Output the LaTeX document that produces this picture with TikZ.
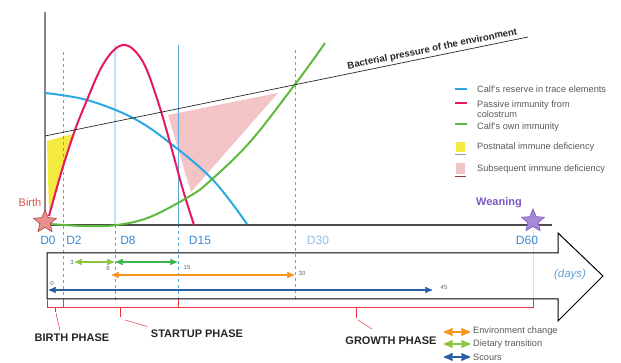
\documentclass[tikz,border=0pt]{standalone}
\usepackage{fontspec}
\setmainfont{Liberation Sans}
\usepackage{tikz}
\usetikzlibrary{positioning,calc,arrows,shapes.geometric}
\definecolor{axisgray}{HTML}{8C8282}
\definecolor{reserveblue}{HTML}{2AAAE2}
\definecolor{passivered}{HTML}{E6195E}
\definecolor{owngreen}{HTML}{5DBA3B}
\definecolor{postyellow}{HTML}{F4EA3F}
\definecolor{subpink}{HTML}{F2C4C6}
\definecolor{guideblue}{HTML}{5AA7DC}
\definecolor{dayblue}{HTML}{3A8AD0}
\definecolor{dietgreen}{HTML}{8CC63F}
\definecolor{darkgreen}{HTML}{3CB54A}
\definecolor{envorange}{HTML}{F7941D}
\definecolor{scourblue}{HTML}{2B5FA5}
\definecolor{bracered}{HTML}{E8333C}
\definecolor{birthred}{HTML}{D9534F}
\definecolor{weanpurple}{HTML}{7E57C2}
\tikzstyle{guide} = [draw=guideblue, line width=0.5pt]
\tikzstyle{guidedash} = [guide, dashed]
\tikzstyle{curve} = [line width=2pt, smooth, tension=0.6]
\tikzstyle{dayl} = [text=dayblue, font=\fontsize{12}{12}\selectfont, inner sep=1pt]
\tikzstyle{dayspan} = [<->,>=stealth',line width=1.4pt]
\tikzstyle{num} = [font=\fontsize{6}{6}\selectfont, text=black!60, inner sep=0pt]
\tikzstyle{phase} = [font=\fontsize{11}{11}\selectfont\bfseries, text=black!85]
\tikzstyle{leg} = [font=\fontsize{9.2}{9.6}\selectfont, text=black!65, anchor=west, inner sep=0pt]
\tikzstyle{phasebrace} = [draw=bracered, line width=0.8pt]
\tikzstyle{legdash} = [line width=1.8pt]
\tikzstyle{mark5} = [star, star points=5, star point ratio=2.2, minimum size=24pt, inner sep=0pt, line width=0.6pt]

\begin{document}
\begin{tikzpicture}[x=1pt, y=-1pt]
	\useasboundingbox (0,0) rectangle (621,363);
	%
	% fills
	\fill [subpink] (168,115) -- (278,93) -- (191,192) -- cycle;
	\fill [postyellow] (47,141) -- (73,134) -- (49,212) -- cycle;
	%
	% day guides
	\draw [guidedash] (63,52) -- (63,307);
	\draw [guideblue!35, line width=2.5pt] (115,45) -- (115,225);
	\draw [guidedash] (115,225) -- (115,300);
	\draw [guide] (178,45) -- (178,225);
	\draw [guidedash] (178,225) -- (178,300);
	\draw [guidedash] (295,50) -- (295,299);
	\draw [guideblue!30, line width=0.6pt] (533,228) -- (533,307);
	%
	% axes
	\coordinate (o) at (45,225);
	\draw [axisgray, line width=1.4pt] (45,12) -- (o);
	\draw [black!70, line width=1.4pt] (o) -- (552,225);
	%
	% curves
	\draw [curve, reserveblue] plot coordinates {(45,93) (87,100) (133,118) (170,143) (213,180) (247,224)};
	\draw [curve, passivered] plot coordinates {(49,216) (62,170) (75,130) (87,100) (100,70) (112,52) (123,45) (134,50) (146,68) (160,108) (172,150) (183,190) (194,225)};
	\draw [curve, owngreen] plot coordinates {(50,224) (85,226) (117,225) (150,217) (190,196) (210,181) (250,142) (293,87) (313,60) (325,43)};
	%
	% bacterial pressure
	\coordinate (bp0) at (45,136);
	\coordinate (bp1) at (528,37);
	\draw [black!85, line width=0.7pt] (bp0) -- (bp1)
		node [pos=0.805, above=-1pt, sloped, font=\fontsize{9.6}{10}\selectfont\bfseries] {Bacterial pressure of the environment};
	%
	% stars
	\node (birthstar) [mark5, fill=birthred!65, draw=birthred!80!black] at (45,222) {};
	\node (birth) [text=birthred, font=\fontsize{11}{11}\selectfont] at (30,203) {Birth};
	\node (weanstar) [mark5, fill=weanpurple!70, draw=weanpurple] at (533,221) {};
	\node (wean) [text=weanpurple, font=\fontsize{11}{11}\selectfont\bfseries] at (499,203) {Weaning};
	%
	% day labels
	\node (d0) [dayl] at (48,240) {D0};
	\node (d2) [dayl] at (74,240) {D2};
	\node (d8) [dayl] at (128,240) {D8};
	\node (d15) [dayl] at (200,240) {D15};
	\node (d30) [dayl, text=dayblue!55] at (318,240) {D30};
	\node (d60) [dayl] at (527,240) {D60};
	%
	% big arrow
	\draw [black, line width=1pt] (47,253) -- (558,253) -- (558,233) -- (603,276) -- (558,321) -- (558,299) -- (47,299) -- cycle;
	\node (days) [text=dayblue!80, font=\fontsize{11.5}{12}\selectfont\itshape] at (570,275) {(days)};
	%
	% spans
	\coordinate (s3) at (75,262);
	\coordinate (s8a) at (114,262);
	\coordinate (s8b) at (116,262);
	\coordinate (s15) at (177,262);
	\coordinate (s8c) at (112,275);
	\coordinate (s30) at (294,275);
	\coordinate (s0) at (49,290);
	\coordinate (s45) at (432,290);
	\draw [dayspan, dietgreen] (s3) -- (s8a);
	\draw [dayspan, darkgreen] (s8b) -- (s15);
	\draw [dayspan, envorange] (s8c) -- (s30);
	\draw [dayspan, scourblue] (s0) -- (s45);
	\node (n3) [num, left=1pt of s3] {3};
	\node (n8) [num] at (108,268) {8};
	\node (n15) [num] at (187,267) {15};
	\node (n30) [num] at (302,273) {30};
	\node (n0) [num] at (52,283) {0};
	\node (n45) [num] at (444,287) {45};
	%
	% phase braces
	\draw [phasebrace] (47,300) -- (47,307) -- (63,307) -- (63,299);
	\draw [phasebrace] (63,307) -- (178,307) -- (178,299);
	\draw [phasebrace] (178,307) -- (533,307) -- (533,299);
	\draw [phasebrace] (55,307) -- (55,312);
	\draw [phasebrace] (120,307) -- (120,317);
	\draw [phasebrace] (356,307) -- (356,318);
	\node (pbirth) [phase] at (72,338) {BIRTH PHASE};
	\node (pstart) [phase] at (197,334) {STARTUP PHASE};
	\node (pgrowth) [phase] at (391,341) {GROWTH PHASE};
	\draw [bracered, line width=0.5pt] (56,313) -- (pbirth.north -| 60,0);
	\draw [bracered, line width=0.5pt] (125,320) -- (pstart.north west);
	\draw [bracered, line width=0.5pt] (358,320) -- (372,329);
	%
	% legend of spans
	\draw [dayspan, envorange, line width=2pt] (444,332) -- (470,332);
	\draw [dayspan, dietgreen, line width=2pt] (444,344) -- (470,344);
	\draw [dayspan, scourblue, line width=2pt] (444,357) -- (470,357);
	\node (lenv) [leg] at (473,331) {Environment change};
	\node (ldiet) [leg] at (473,344) {Dietary transition};
	\node (lscour) [leg] at (473,357) {Scours};
	%
	% legend of curves
	\draw [legdash, reserveblue] (455,89) -- (467,89);
	\draw [legdash, passivered] (455,103) -- (467,103);
	\draw [legdash, owngreen] (455,124) -- (467,124);
	\fill [postyellow] (456,142) rectangle (465,152);
	\draw [black!40, line width=0.6pt] (455,154) -- (466,154);
	\fill [subpink] (456,163) rectangle (465,174);
	\draw [birthred!70!black, line width=0.6pt] (455,176) -- (466,176);
	\node (lres) [leg] at (477,89) {Calf's reserve in trace elements};
	\node (lpas) [leg, align=left] at (477,109) {Passive immunity from\\colostrum};
	\node (lown) [leg] at (477,127) {Calf's own immunity};
	\node (lpost) [leg] at (477,147) {Postnatal immune deficiency};
	\node (lsub) [leg] at (477,169) {Subsequent immune deficiency};
\end{tikzpicture}
\end{document}
